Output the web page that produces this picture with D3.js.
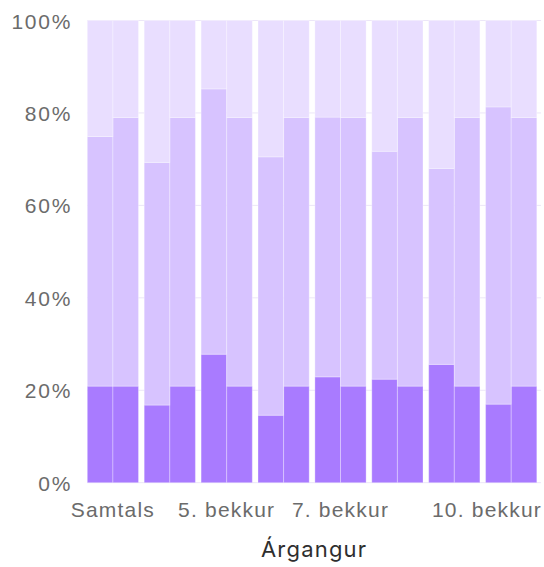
<!DOCTYPE html>
<html>
<head>
<meta charset="utf-8">
<script src="https://cdn.jsdelivr.net/npm/d3@7"></script>
<style>
  body { margin: 0; background: #fff; }
  svg { display: block; font-family: "Inter", sans-serif; }
  .tick text { fill: #6b6b6b; }
</style>
</head>
<body>
<svg id="chart" width="544" height="567"></svg>
<script>
// grades (árgangar)
var categories = ["Samtals", "4. bekkur", "5. bekkur", "6. bekkur", "7. bekkur", "8. bekkur", "9. bekkur", "10. bekkur"]
var shownLabels = ["Samtals", "5. bekkur", "7. bekkur", "10. bekkur"]
// school values, percent per segment (bottom, middle); top is the rest up to 100
var lowVals = [20.9, 16.8, 27.8, 14.6, 22.9, 22.4, 25.6, 17.0]
var midVals = [54.0, 52.5, 57.4, 55.9, 56.2, 49.3, 42.4, 64.3]
// comparison bar (same in every group)
var cmpLow = [20.9, 20.9, 20.9, 20.9, 20.9, 20.9, 20.9, 20.9]
var cmpMid = [58.1, 58.1, 58.1, 58.1, 58.1, 58.1, 58.1, 58.1]
var yTicks = [0, 20, 40, 60, 80, 100]

var colors = {low: "#a97bff", mid: "#d7c3ff", high: "#e9deff"}

var rows = []
categories.forEach(function (c, i) {
    rows.push({cat: c, bar: "val", low: lowVals[i], mid: midVals[i], high: 100 - lowVals[i] - midVals[i]})
    rows.push({cat: c, bar: "cmp", low: cmpLow[i], mid: cmpMid[i], high: 100 - cmpLow[i] - cmpMid[i]})
})

const svg = d3.select("#chart"),
    plotLeft = 87.3, barsRight = 536.8, plotRight = 541,
    plotTop = 20.5, plotBottom = 482.7;

const x = d3.scaleBand().domain(categories).range([plotLeft, barsRight]).paddingInner(0.1).paddingOuter(0);
const xi = d3.scaleBand().domain(["val", "cmp"]).range([0, x.bandwidth()]);
const y = d3.scaleLinear().domain([0, 100]).range([plotBottom, plotTop]);

// grid
svg.append("g").selectAll("line").data(yTicks).enter().append("line")
    .attr("x1", plotLeft).attr("x2", plotRight)
    .attr("y1", function (d) { return y(d); })
    .attr("y2", function (d) { return y(d); })
    .attr("stroke", "#ece6f8").attr("stroke-width", 1);

const stack = d3.stack().keys(["low", "mid", "high"]);
const series = stack(rows);

svg.append("g").selectAll("g").data(series).enter().append("g")
    .attr("fill", function (d) { return colors[d.key]; })
    .selectAll("rect").data(function (d) { return d; }).enter().append("rect")
    .attr("x", function (d) { return x(d.data.cat) + xi(d.data.bar); })
    .attr("width", xi.bandwidth())
    .attr("y", function (d) { return y(d[1]); })
    .attr("height", function (d) { return y(d[0]) - y(d[1]); })
    .attr("stroke", "#ffffff").attr("stroke-opacity", 0.3).attr("stroke-width", 1);

// y axis
const yAxis = svg.append("g")
    .attr("transform", "translate(" + plotLeft + ",0)")
    .call(d3.axisLeft(y).tickValues(yTicks).tickSize(0).tickPadding(15).tickFormat(function (d) { return d + "%"; }));
yAxis.select(".domain").remove();
yAxis.selectAll("text").style("font-size", "21px").style("letter-spacing", "1.8px").attr("dy", "0.36em");

// x axis
const xAxis = svg.append("g")
    .attr("transform", "translate(0," + plotBottom + ")")
    .call(d3.axisBottom(x).tickValues(shownLabels).tickSize(0).tickPadding(19));
xAxis.select(".domain").remove();
xAxis.selectAll("text").style("font-size", "21px").style("letter-spacing", "1.2px");
// keep last label inside the picture
xAxis.selectAll(".tick").filter(function (d) { return d == "10. bekkur"; })
    .select("text")
    .attr("text-anchor", "end")
    .attr("x", plotRight + 1 - x("10. bekkur") - x.bandwidth() / 2);

svg.append("text")
    .attr("x", (plotLeft + plotRight) / 2)
    .attr("y", 557)
    .attr("text-anchor", "middle")
    .style("font-size", "22px")
    .style("letter-spacing", "1.2px")
    .style("fill", "#2e2e2e")
    .text("Árgangur");
</script>
</body>
</html>
